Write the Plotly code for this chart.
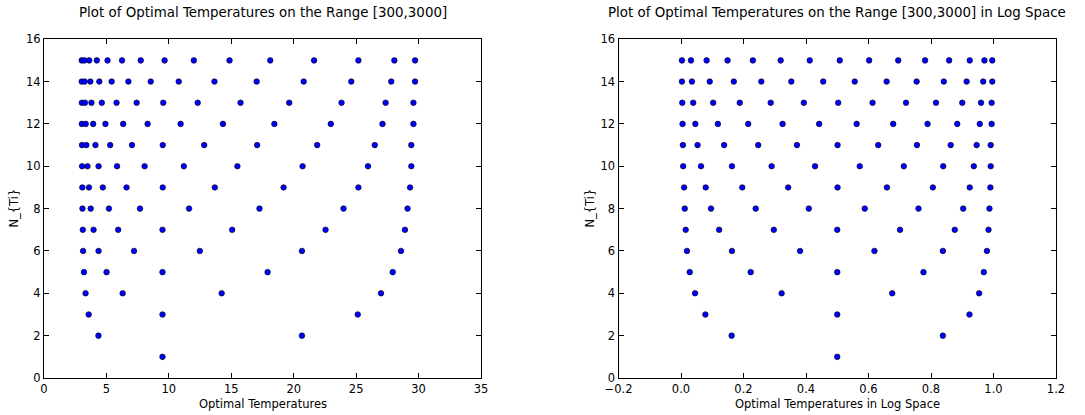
import plotly.graph_objects as go

# ---------------- data ----------------
n_values = list(range(1, 16))

# optimal temperatures (units of 100 K) for each N_{Ti}
temp_n01 = [9.49]
temp_n02 = [4.36, 20.66]
temp_n03 = [3.58, 9.49, 25.13]
temp_n04 = [3.33, 6.30, 14.23, 26.99]
temp_n05 = [3.20, 5.01, 9.49, 17.91, 27.93]
temp_n06 = [3.13, 4.37, 7.21, 12.48, 20.66, 28.59]
temp_n07 = [3.11, 3.97, 5.94, 9.49, 15.07, 22.55, 28.91]
temp_n08 = [3.08, 3.74, 5.20, 7.69, 11.62, 17.26, 23.99, 29.12]
temp_n09 = [3.07, 3.60, 4.71, 6.61, 9.51, 13.68, 19.19, 25.18, 29.32]
temp_n10 = [3.05, 3.48, 4.37, 5.85, 8.06, 11.20, 15.49, 20.71, 25.95, 29.42]
temp_n11 = [3.04, 3.39, 4.12, 5.30, 7.05, 9.51, 12.83, 17.07, 21.88, 26.49, 29.42]
temp_n12 = [3.03, 3.34, 3.94, 4.92, 6.34, 8.30, 10.94, 14.33, 18.45, 22.97, 27.11, 29.59]
temp_n13 = [3.03, 3.28, 3.80, 4.63, 5.81, 7.42, 9.55, 12.31, 15.74, 19.64, 23.83, 27.36, 29.59]
temp_n14 = [3.02, 3.25, 3.71, 4.43, 5.42, 6.76, 8.55, 10.79, 13.65, 17.03, 20.80, 24.61, 27.81, 29.72]
temp_n15 = [3.02, 3.23, 3.62, 4.23, 5.09, 6.25, 7.75, 9.66, 12.00, 14.86, 18.12, 21.63, 25.18, 28.06, 29.72]

# the same temperatures in (normalised) log space
log_n01 = [0.500]
log_n02 = [0.162, 0.838]
log_n03 = [0.078, 0.500, 0.923]
log_n04 = [0.045, 0.322, 0.676, 0.954]
log_n05 = [0.028, 0.223, 0.500, 0.776, 0.969]
log_n06 = [0.019, 0.163, 0.381, 0.619, 0.838, 0.979]
log_n07 = [0.015, 0.122, 0.297, 0.500, 0.701, 0.876, 0.984]
log_n08 = [0.012, 0.096, 0.239, 0.409, 0.588, 0.760, 0.903, 0.987]
log_n09 = [0.010, 0.079, 0.196, 0.343, 0.501, 0.659, 0.806, 0.924, 0.990]
log_n10 = [0.007, 0.064, 0.163, 0.290, 0.429, 0.572, 0.713, 0.839, 0.937, 0.991]
log_n11 = [0.006, 0.053, 0.138, 0.247, 0.371, 0.501, 0.631, 0.755, 0.863, 0.946, 0.991]
log_n12 = [0.005, 0.046, 0.118, 0.215, 0.325, 0.442, 0.562, 0.679, 0.789, 0.884, 0.956, 0.994]
log_n13 = [0.004, 0.039, 0.103, 0.188, 0.287, 0.393, 0.503, 0.613, 0.720, 0.816, 0.900, 0.960, 0.994]
log_n14 = [0.003, 0.035, 0.092, 0.169, 0.257, 0.353, 0.455, 0.556, 0.658, 0.754, 0.841, 0.914, 0.967, 0.996]
log_n15 = [0.003, 0.032, 0.082, 0.149, 0.230, 0.319, 0.412, 0.508, 0.602, 0.695, 0.781, 0.858, 0.924, 0.971, 0.996]

left_xticks = [0, 5, 10, 15, 20, 25, 30, 35]
right_xticks = [-0.2, 0.0, 0.2, 0.4, 0.6, 0.8, 1.0, 1.2]
right_xticklabels = ["\u22120.2", "0.0", "0.2", "0.4", "0.6", "0.8", "1.0", "1.2"]
yticks = [0, 2, 4, 6, 8, 10, 12, 14, 16]

title_left = "Plot of Optimal Temperatures on the Range [300,3000]"
title_right = "Plot of Optimal Temperatures on the Range [300,3000] in Log Space"
xlabel_left = "Optimal Temperatures"
xlabel_right = "Optimal Temperatures in Log Space"
ylabel = "N_{Ti}"

# ---------------- build ----------------
temps = [temp_n01, temp_n02, temp_n03, temp_n04, temp_n05, temp_n06, temp_n07, temp_n08,
         temp_n09, temp_n10, temp_n11, temp_n12, temp_n13, temp_n14, temp_n15]
logs = [log_n01, log_n02, log_n03, log_n04, log_n05, log_n06, log_n07, log_n08,
        log_n09, log_n10, log_n11, log_n12, log_n13, log_n14, log_n15]

xl, yl, xr, yr = [], [], [], []
for n, t, g in zip(n_values, temps, logs):
    xl += t
    yl += [n] * len(t)
    xr += g
    yr += [n] * len(g)

W, H = 1085, 415
FONT = "DejaVu Sans"

marker = dict(color="#0000ff", size=5.6, line=dict(color="black", width=0.6))

fig = go.Figure()
fig.add_trace(go.Scatter(x=xl, y=yl, mode="markers", marker=marker,
                         xaxis="x", yaxis="y", showlegend=False, hoverinfo="x+y"))
fig.add_trace(go.Scatter(x=xr, y=yr, mode="markers", marker=marker,
                         xaxis="x2", yaxis="y2", showlegend=False, hoverinfo="x+y"))

# pixel geometry of the axes boxes
L_x0, L_x1 = 44, 481
R_x0, R_x1 = 618.5, 1056
Y_top, Y_bot = 39.2, 378

def px(x):
    return x / W

def py(y):
    return 1 - y / H

axis_common = dict(showline=True, linecolor="black", linewidth=1, mirror="allticks",
                   ticks="inside", ticklen=5, tickwidth=1, tickcolor="black",
                   showgrid=False, zeroline=False, automargin=False,
                   tickfont=dict(family=FONT, size=11.5, color="black"))

fig.update_layout(
    width=W, height=H,
    margin=dict(l=0, r=0, t=0, b=0),
    paper_bgcolor="white", plot_bgcolor="white",
    font=dict(family=FONT, color="black"),
    xaxis=dict(domain=[px(L_x0), px(L_x1)], range=[0, 35], tickvals=left_xticks,
               anchor="y", **axis_common),
    yaxis=dict(domain=[py(Y_bot), py(Y_top)], range=[0, 16], tickvals=yticks,
               anchor="x", **axis_common),
    xaxis2=dict(domain=[px(R_x0), px(R_x1)], range=[-0.2, 1.2], tickvals=right_xticks,
                ticktext=right_xticklabels, anchor="y2", **axis_common),
    yaxis2=dict(domain=[py(Y_bot), py(Y_top)], range=[0, 16], tickvals=yticks,
                anchor="x2", **axis_common),
)

ann = []
ann.append(dict(text=title_left, x=px((L_x0 + L_x1) / 2), y=py(13), xref="paper", yref="paper",
                xanchor="center", yanchor="middle", showarrow=False,
                font=dict(family=FONT, size=13.4, color="black")))
ann.append(dict(text=title_right, x=px((R_x0 + R_x1) / 2), y=py(13), xref="paper", yref="paper",
                xanchor="center", yanchor="middle", showarrow=False,
                font=dict(family=FONT, size=13.4, color="black")))
ann.append(dict(text=xlabel_left, x=px((L_x0 + L_x1) / 2), y=py(404), xref="paper", yref="paper",
                xanchor="center", yanchor="middle", showarrow=False,
                font=dict(family=FONT, size=11.5, color="black")))
ann.append(dict(text=xlabel_right, x=px((R_x0 + R_x1) / 2), y=py(404), xref="paper", yref="paper",
                xanchor="center", yanchor="middle", showarrow=False,
                font=dict(family=FONT, size=11.5, color="black")))
ann.append(dict(text=ylabel, x=px(14), y=py((Y_top + Y_bot) / 2), xref="paper", yref="paper",
                xanchor="center", yanchor="middle", showarrow=False, textangle=-90,
                font=dict(family=FONT, size=11.5, color="black")))
ann.append(dict(text=ylabel, x=px(590), y=py((Y_top + Y_bot) / 2), xref="paper", yref="paper",
                xanchor="center", yanchor="middle", showarrow=False, textangle=-90,
                font=dict(family=FONT, size=11.5, color="black")))
fig.update_layout(annotations=ann)

fig.write_html("out.html")
